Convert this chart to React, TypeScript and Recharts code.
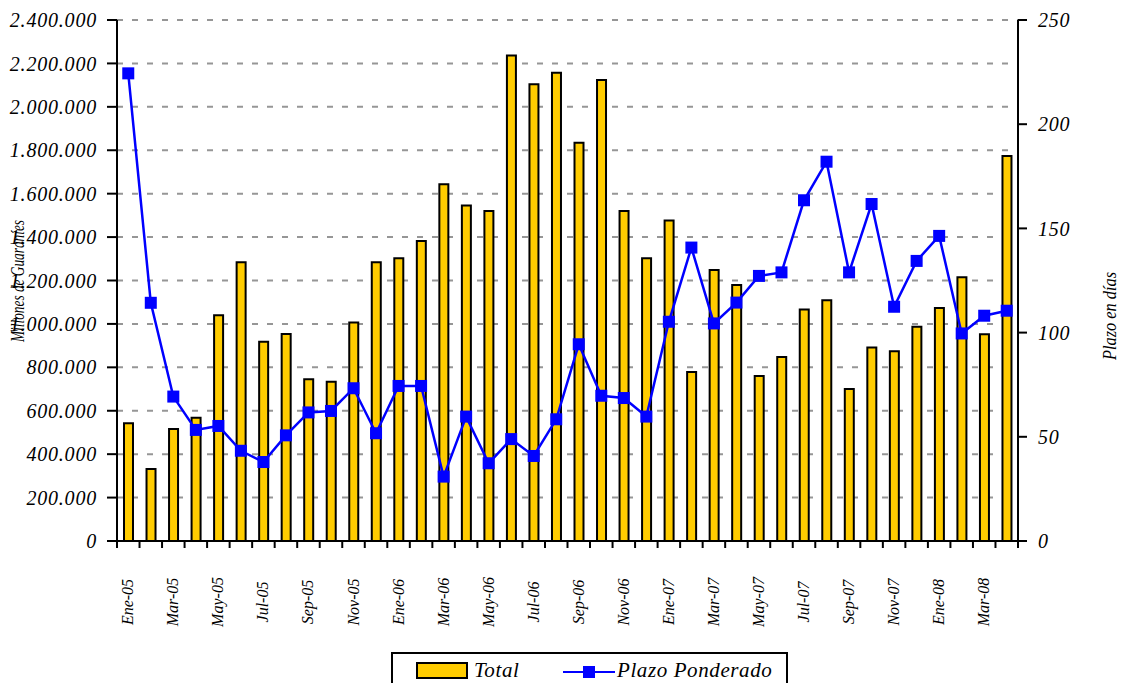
import React from 'react';
import { ComposedChart, Bar, Line, XAxis, YAxis, CartesianGrid, Legend } from 'recharts';

const months = [
  'Ene-05','Feb-05','Mar-05','Abr-05','May-05','Jun-05','Jul-05','Ago-05','Sep-05','Oct-05','Nov-05','Dic-05',
  'Ene-06','Feb-06','Mar-06','Abr-06','May-06','Jun-06','Jul-06','Ago-06','Sep-06','Oct-06','Nov-06','Dic-06',
  'Ene-07','Feb-07','Mar-07','Abr-07','May-07','Jun-07','Jul-07','Ago-07','Sep-07','Oct-07','Nov-07','Dic-07',
  'Ene-08','Feb-08','Mar-08','Abr-08'
];

const total = [
  542000, 332000, 516000, 568000, 1040000, 1284000, 918000, 954000, 745000, 734000, 1006000, 1284000,
  1302000, 1382000, 1643000, 1546000, 1520000, 2236000, 2104000, 2157000, 1835000, 2124000, 1520000, 1302000,
  1476000, 778000, 1248000, 1179000, 760000, 848000, 1066000, 1109000, 700000, 891000, 874000, 987000,
  1073000, 1215000, 952000, 1773000
];

const plazo = [
  224.4, 114.3, 69.3, 53.3, 55.2, 43.3, 37.9, 50.7, 61.7, 62.4, 73.3, 51.7,
  74.4, 74.4, 30.9, 59.7, 37.3, 48.9, 40.8, 58.4, 94.4, 69.7, 68.6, 59.7,
  105.2, 140.8, 104.4, 114.4, 127.2, 128.9, 163.5, 182.0, 128.9, 161.7, 112.4, 134.4,
  146.4, 99.6, 108.1, 110.5
];

const leftTicks = [0, 200000, 400000, 600000, 800000, 1000000, 1200000, 1400000, 1600000, 1800000, 2000000, 2200000, 2400000];
const rightTicks = [0, 50, 100, 150, 200, 250];

const data = months.map((m, i) => ({ m, total: total[i], plazo: plazo[i] }));

const W = 1123;
const H = 683;
const LEFT_W = 117;
const RIGHT_W = 105;
const TOP = 20;
const XAXIS_H = 142;
const BAND = (W - LEFT_W - RIGHT_W) / months.length;

const FONT = 'Liberation Serif';

const fmt = (v: number) => String(v).replace(/\B(?=(\d{3})+(?!\d))/g, '.');

const XTick = (props: any) => {
  const { x, y, payload } = props;
  const index = props.index ?? payload?.index ?? 0;
  const bx = x - BAND / 2;
  return (
    <g>
      <line x1={bx} y1={y} x2={bx} y2={y + 7} stroke="#000" strokeWidth={2} />
      {index === months.length - 1 && (
        <line x1={x + BAND / 2} y1={y} x2={x + BAND / 2} y2={y + 7} stroke="#000" strokeWidth={2} />
      )}
      {index % 2 === 0 && (
        <text
          transform={`translate(${x + 5}, ${y + 61}) rotate(-90)`}
          textAnchor="middle"
          fontFamily={FONT}
          fontStyle="italic"
          fontSize={16}
          fill="#000"
        >
          {payload.value}
        </text>
      )}
    </g>
  );
};

const Square = (props: any) => {
  const { cx, cy } = props;
  if (cx == null || cy == null) return null;
  return <rect x={cx - 6} y={cy - 6} width={12} height={12} fill="#0000FF" />;
};

const LeftLabel = () => (
  <text
    x={0}
    y={0}
    transform="translate(24, 281) rotate(-90)"
    textAnchor="middle"
    fontFamily={FONT}
    fontStyle="italic"
    fontSize={18}
    fill="#000"
    textLength={122}
    lengthAdjust="spacingAndGlyphs"
  >
    Millones de Guaraníes
  </text>
);

const RightLabel = () => (
  <text
    x={0}
    y={0}
    transform="translate(1116, 316) rotate(-90)"
    textAnchor="middle"
    fontFamily={FONT}
    fontStyle="italic"
    fontSize={18}
    fill="#000"
    textLength={88}
    lengthAdjust="spacingAndGlyphs"
  >
    Plazo en días
  </text>
);

const LegendBox = () => (
  <div
    style={{
      boxSizing: 'border-box',
      width: 397,
      height: 31,
      border: '2px solid #000',
      borderBottom: 'none',
      background: '#fff',
      position: 'relative',
      fontFamily: `"${FONT}"`,
      fontStyle: 'italic',
      fontSize: 21,
      color: '#000',
    }}
  >
    <div
      style={{
        position: 'absolute',
        left: 23,
        top: 8,
        width: 52,
        height: 17,
        boxSizing: 'border-box',
        background: '#FFCC00',
        border: '2px solid #000',
      }}
    />
    <span style={{ position: 'absolute', left: 81, top: 5, letterSpacing: 0.6, lineHeight: '22px' }}>Total</span>
    <svg style={{ position: 'absolute', left: 170, top: 8 }} width={52} height={18}>
      <line x1={0} y1={10} x2={52} y2={10} stroke="#0000FF" strokeWidth={2} />
      <rect x={20} y={4} width={12} height={12} fill="#0000FF" />
    </svg>
    <span style={{ position: 'absolute', left: 224, top: 5, letterSpacing: 0.6, lineHeight: '22px', whiteSpace: 'nowrap' }}>
      Plazo Ponderado
    </span>
  </div>
);

const tickStyle = { fontSize: 20, fontStyle: 'italic', fill: '#000', fontFamily: FONT, letterSpacing: 0.8 };

export default function App() {
  return (
    <div style={{ position: 'absolute', left: 0, top: 0, width: W, height: H, background: '#fff', overflow: 'hidden' }}>
      <ComposedChart
        width={W}
        height={H}
        data={data}
        margin={{ top: TOP, right: 0, bottom: 0, left: 0 }}
        barCategoryGap={0}
      >
        <CartesianGrid
          yAxisId="left"
          vertical={false}
          horizontal={true}
          stroke="#969696"
          strokeWidth={2}
          strokeDasharray="6 9"
        />
        <XAxis
          dataKey="m"
          interval={0}
          height={XAXIS_H}
          tickSize={0}
          tickMargin={0}
          tickLine={false}
          axisLine={{ stroke: '#000', strokeWidth: 2 }}
          tick={(p: any) => <XTick {...p} />}
        />
        <YAxis
          yAxisId="left"
          orientation="left"
          width={LEFT_W}
          domain={[0, 2400000]}
          ticks={leftTicks}
          interval={0}
          tickFormatter={fmt}
          tickSize={10}
          tickMargin={10}
          axisLine={{ stroke: '#000', strokeWidth: 2 }}
          tickLine={{ stroke: '#000', strokeWidth: 2 }}
          tick={tickStyle}
          label={(p: any) => <LeftLabel />}
        />
        <YAxis
          yAxisId="right"
          orientation="right"
          width={RIGHT_W}
          domain={[0, 250]}
          ticks={rightTicks}
          interval={0}
          tickSize={9}
          tickMargin={11}
          axisLine={{ stroke: '#000', strokeWidth: 2 }}
          tickLine={{ stroke: '#000', strokeWidth: 2 }}
          tick={tickStyle}
          label={(p: any) => <RightLabel />}
        />
        <Bar
          yAxisId="left"
          dataKey="total"
          name="Total"
          barSize={9}
          fill="#FFCC00"
          stroke="#000"
          strokeWidth={2}
          isAnimationActive={false}
        />
        <Line
          yAxisId="right"
          dataKey="plazo"
          name="Plazo Ponderado"
          type="linear"
          stroke="#0000FF"
          strokeWidth={2.5}
          dot={(p: any) => <Square key={`d${p.index}`} {...p} />}
          activeDot={false}
          isAnimationActive={false}
        />
        <Legend
          layout="horizontal"
          verticalAlign="middle"
          align="center"
          wrapperStyle={{ position: 'absolute', left: 391, top: 652, width: 397, height: 31 }}
          content={() => <LegendBox />}
        />
      </ComposedChart>
    </div>
  );
}
